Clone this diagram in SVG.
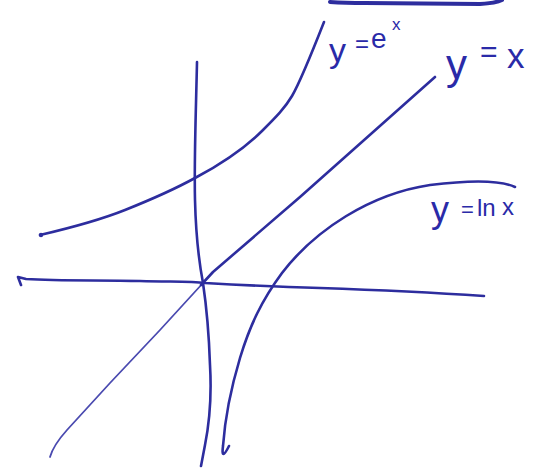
<svg xmlns="http://www.w3.org/2000/svg" width="550" height="473" viewBox="0 0 550 473">
<style>
.ink{fill:none;stroke:#2d2d9e;stroke-width:2.6;stroke-linecap:round;stroke-linejoin:round}
.thin{fill:none;stroke:#4a4ab0;stroke-width:1.8;stroke-linecap:round}
.lbl{font-family:"Liberation Sans",Arial,sans-serif;fill:#2a2aa8}
</style>
<rect width="550" height="473" fill="#ffffff"/>
<g id="top-stroke">
<path class="ink" style="stroke-width:4" d="M330,2 Q345,3 365,3 L480,4 Q496,3 502,0"/>
</g>
<g id="axes">
<path id="y-axis" class="ink" d="M197,62 C196,110 194,160 195,200 C196,240 199,262 203,283 C207,310 209,335 210,365 C212,400 209,425 205,445 L201,466"/>
<path id="x-axis" class="ink" d="M21,285 L18,277 L26,279 C60,281 100,280 140,281 C170,282 190,281 205,283 C240,285 280,287 320,288 C380,290 440,293 484,296"/>
</g>
<g id="curve-exp">
<path class="ink" d="M40,235 C70,228 100,220 125,210 C150,200 175,189 195,178 C225,162 248,145 263,130 C276,117 285,108 292,96 C299,84 313,50 324,22"/>
<circle cx="41" cy="235" r="2.2" fill="#2d2d9e"/>
</g>
<g id="curve-identity">
<path class="thin" d="M50,457 C52,450 58,440 67,430 L110,383 L160,330 L203,283"/>
<path class="ink" d="M201,285 L213,272 L300,197 L435,77"/>
</g>
<g id="curve-log">
<path class="ink" d="M229,446 Q221,462 223,446 C225,418 231,388 240,358 C250,325 262,300 282,273 C315,230 370,194 430,185 C470,180 500,180 515,187"/>
</g>
<g id="labels">
<text class="lbl" font-size="28"><tspan x="329" y="62" font-size="34">y</tspan><tspan x="355" y="52" font-size="24">=</tspan><tspan x="371" y="48">e</tspan><tspan x="392" y="30" font-size="17">x</tspan></text>
<text class="lbl" font-size="35"><tspan x="446" y="79" font-size="42">y</tspan><tspan x="480" y="62" font-size="30">=</tspan><tspan x="507" y="68">x</tspan></text>
<text class="lbl" font-size="24"><tspan x="431" y="222" font-size="36">y</tspan><tspan x="461" y="217" font-size="22">=</tspan><tspan x="477" y="216">ln</tspan><tspan x="502" y="215">x</tspan></text>
</g>
</svg>
